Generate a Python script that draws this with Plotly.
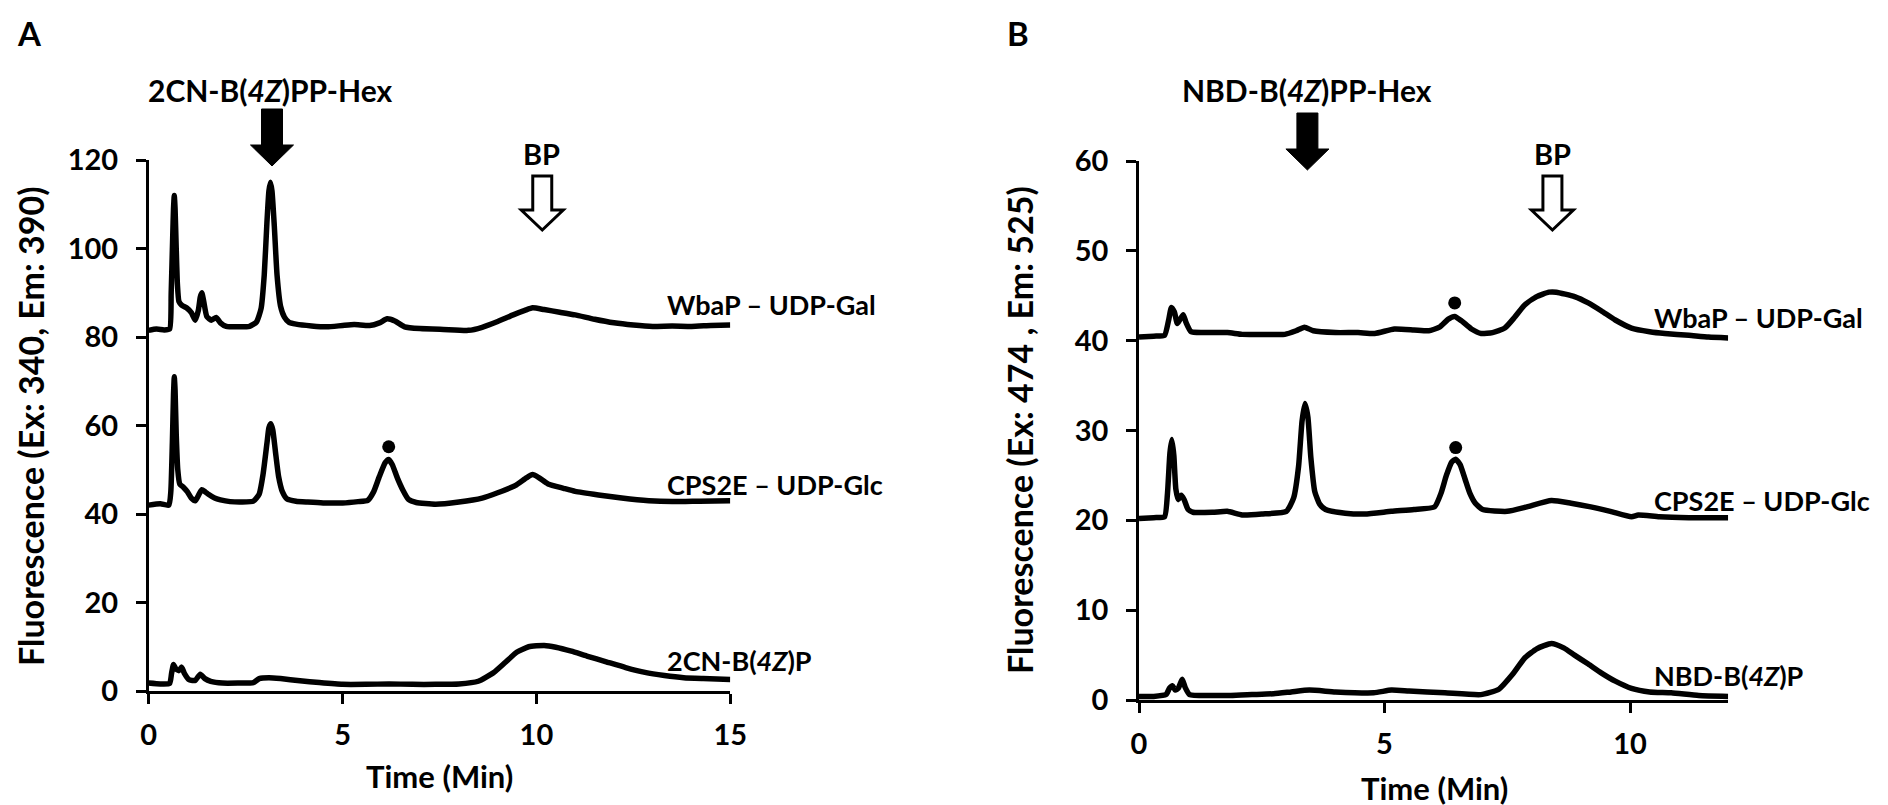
import plotly.graph_objects as go

W, H = 1888, 805

# ---------------- Data (time in min, fluorescence) ----------------
# Panel A
a_wbap_t = [0, 0.2, 0.4, 0.54, 0.58, 0.62, 0.64, 0.66, 0.68, 0.71, 0.74, 0.78, 0.85, 0.99, 1.1, 1.2, 1.28, 1.33, 1.37, 1.42, 1.5, 1.62, 1.74, 1.85, 2.0, 2.3, 2.6, 2.78, 2.9, 2.98, 3.05, 3.1, 3.14, 3.18, 3.24, 3.31, 3.4, 3.5, 3.62, 3.8, 4.2, 4.6, 5.0, 5.3, 5.7, 5.95, 6.15, 6.35, 6.6, 7.0, 7.6, 8.25, 8.6, 9.0, 9.4, 9.7, 9.9, 10.2, 10.6, 11.0, 11.5, 12.0, 12.5, 13.0, 13.5, 14.0, 14.5, 15.0]
a_wbap_y = [81.5, 81.8, 81.6, 81.8, 90, 103, 109, 112.0, 109, 100, 92, 88.0, 87.2, 86.5, 85.5, 83.8, 86.0, 89.0, 90.0, 88.0, 84.6, 83.8, 84.4, 83.2, 82.4, 82.3, 82.4, 83.4, 86.5, 94, 106, 113, 115.0, 113, 105, 94, 87, 84.5, 83.3, 82.9, 82.5, 82.3, 82.6, 82.8, 82.6, 83.2, 84.1, 83.6, 82.3, 81.9, 81.7, 81.5, 82.2, 83.5, 85.0, 86.0, 86.6, 86.2, 85.6, 85.0, 84.0, 83.2, 82.7, 82.4, 82.5, 82.4, 82.6, 82.7]

a_cps_t = [0, 0.3, 0.52, 0.57, 0.61, 0.64, 0.66, 0.68, 0.71, 0.75, 0.8, 0.9, 1.0, 1.1, 1.2, 1.3, 1.37, 1.46, 1.55, 1.7, 1.85, 2.1, 2.4, 2.7, 2.85, 2.95, 3.05, 3.1, 3.15, 3.2, 3.27, 3.35, 3.45, 3.57, 3.8, 4.1, 4.5, 5.0, 5.4, 5.65, 5.8, 5.95, 6.1, 6.19, 6.28, 6.42, 6.55, 6.7, 6.9, 7.4, 8.0, 8.6, 9.0, 9.45, 9.75, 9.9, 10.05, 10.3, 10.7, 11.0, 11.6, 12.2, 12.9, 13.5, 14.2, 15.0]
a_cps_y = [42.0, 42.3, 42.0, 45, 56, 67, 71.0, 68, 58, 50, 46.8, 46.0, 45.0, 43.6, 43.0, 44.5, 45.5, 45.0, 44.4, 43.6, 43.2, 42.8, 42.7, 42.9, 44.5, 49, 56, 59.5, 60.4, 59, 54, 48.5, 45, 43.4, 42.9, 42.7, 42.5, 42.5, 42.8, 43.1, 45, 48.5, 51.6, 52.3, 51.2, 48, 45.5, 43.3, 42.6, 42.2, 42.7, 43.6, 44.8, 46.4, 48.2, 48.9, 48.3, 46.8, 45.8, 45.1, 44.3, 43.6, 43.0, 42.8, 42.9, 43.0]

a_ref_t = [0, 0.3, 0.54, 0.59, 0.64, 0.7, 0.78, 0.85, 0.92, 1.05, 1.2, 1.33, 1.45, 1.6, 1.9, 2.3, 2.7, 2.85, 3.1, 3.4, 3.9, 4.4, 5.0, 5.6, 6.2, 6.8, 7.4, 8.0, 8.5, 8.9, 9.2, 9.5, 9.8, 10.2, 10.5, 10.9, 11.3, 11.8, 12.3, 12.8, 13.3, 13.8, 14.3, 15.0]
a_ref_y = [1.8, 1.6, 1.7, 4.0, 6.0, 5.0, 4.6, 5.4, 4.0, 2.5, 2.4, 3.8, 2.8, 2.2, 1.8, 1.8, 1.9, 2.8, 3.0, 2.8, 2.3, 1.9, 1.5, 1.5, 1.6, 1.5, 1.5, 1.6, 2.2, 4.2, 6.5, 8.8, 10.0, 10.3, 9.9, 9.0, 7.9, 6.6, 5.3, 4.2, 3.5, 3.0, 2.8, 2.6]

# Panel B
b_wbap_t = [0, 0.3, 0.52, 0.6, 0.66, 0.72, 0.78, 0.84, 0.9, 0.96, 1.06, 1.3, 1.8, 2.1, 2.6, 2.97, 3.2, 3.37, 3.55, 4.0, 4.46, 4.8, 5.2, 5.6, 5.9, 6.12, 6.3, 6.43, 6.57, 6.77, 6.97, 7.2, 7.45, 7.65, 7.86, 8.1, 8.35, 8.5, 8.87, 9.15, 9.42, 9.7, 10.03, 10.4, 10.71, 11.2, 11.6, 12.0]
b_wbap_y = [40.4, 40.5, 40.6, 42.2, 43.7, 43.2, 41.9, 42.4, 42.9, 42.0, 41.0, 40.9, 40.9, 40.7, 40.7, 40.7, 41.1, 41.5, 41.1, 40.9, 40.9, 40.8, 41.3, 41.2, 41.1, 41.5, 42.4, 42.7, 42.2, 41.3, 40.8, 40.9, 41.4, 42.6, 44.0, 44.9, 45.4, 45.4, 44.9, 44.2, 43.3, 42.3, 41.4, 41.0, 40.8, 40.6, 40.4, 40.3]

b_cps_t = [0, 0.3, 0.52, 0.58, 0.63, 0.67, 0.71, 0.75, 0.8, 0.86, 0.92, 1.0, 1.1, 1.5, 1.8, 2.1, 2.5, 3.0, 3.15, 3.25, 3.32, 3.38, 3.44, 3.5, 3.58, 3.68, 3.8, 4.2, 4.6, 5.14, 5.6, 6.02, 6.15, 6.26, 6.37, 6.45, 6.54, 6.64, 6.74, 6.85, 7.0, 7.5, 7.9, 8.4, 8.8, 9.2, 9.6, 10.03, 10.17, 10.6, 11.2, 12.0]
b_cps_y = [20.2, 20.3, 20.4, 23, 27.5, 29.0, 27.2, 23.5, 22.3, 22.8, 22.3, 21.2, 20.9, 20.9, 21.0, 20.6, 20.7, 21.0, 22.5, 26, 31, 33.0, 31.5, 27, 23.2, 21.8, 21.2, 20.8, 20.7, 21.0, 21.2, 21.5, 23, 25, 26.5, 26.8, 26.2, 24.6, 23.0, 21.9, 21.2, 21.0, 21.5, 22.2, 21.9, 21.5, 21.0, 20.4, 20.6, 20.4, 20.3, 20.3]

b_ref_t = [0, 0.3, 0.55, 0.62, 0.68, 0.74, 0.8, 0.88, 0.94, 1.03, 1.5, 1.87, 2.3, 2.74, 3.1, 3.47, 4.0, 4.78, 5.14, 5.5, 6.23, 6.96, 7.33, 7.6, 7.86, 8.1, 8.4, 8.65, 8.87, 9.15, 9.42, 9.7, 10.03, 10.4, 10.84, 11.4, 12.0]
b_ref_y = [0.4, 0.4, 0.6, 1.3, 1.6, 1.1, 1.3, 2.3, 1.4, 0.6, 0.5, 0.5, 0.6, 0.7, 0.9, 1.1, 0.9, 0.8, 1.1, 1.0, 0.8, 0.6, 1.2, 2.8, 4.7, 5.7, 6.3, 5.8, 5.0, 4.0, 3.0, 2.1, 1.3, 0.9, 0.8, 0.5, 0.4]

# dot markers above peaks
a_dot_t = [6.19]
a_dot_y = [55.2]
b_dot_t = [6.43, 6.45]
b_dot_y = [44.2, 28.1]

# labels
a_labels = ["WbaP – UDP-Gal", "CPS2E – UDP-Glc", "2CN-B(<i>4Z</i>)P"]
b_labels = ["WbaP – UDP-Gal", "CPS2E – UDP-Glc", "NBD-B(<i>4Z</i>)P"]
a_xticks = [0, 5, 10, 15]
a_yticks = [0, 20, 40, 60, 80, 100, 120]
b_xticks = [0, 5, 10]
b_yticks = [0, 10, 20, 30, 40, 50, 60]
a_product_t = 3.18   # filled arrow
a_bp_t = 10.15       # open arrow
b_product_t = 3.43
b_bp_t = 8.42

# ---------------- helpers ----------------
def px(x):
    return x / W

def py(y):
    return 1 - y / H

FONT = "Lato"
def f(size):
    return dict(family=FONT, size=size, color="black", weight="bold")

fig = go.Figure()
line = dict(color="black", width=5.5, shape="spline", smoothing=0.5)
for t, y in [(a_wbap_t, a_wbap_y), (a_cps_t, a_cps_y), (a_ref_t, a_ref_y)]:
    fig.add_trace(go.Scatter(x=t, y=y, mode="lines", line=line, xaxis="x", yaxis="y", hoverinfo="skip"))
for t, y in [(b_wbap_t, b_wbap_y), (b_cps_t, b_cps_y), (b_ref_t, b_ref_y)]:
    fig.add_trace(go.Scatter(x=t, y=y, mode="lines", line=line, xaxis="x2", yaxis="y2", hoverinfo="skip"))
fig.add_trace(go.Scatter(x=a_dot_t, y=a_dot_y, mode="markers", marker=dict(color="black", size=13), xaxis="x", yaxis="y", cliponaxis=False))
fig.add_trace(go.Scatter(x=b_dot_t, y=b_dot_y, mode="markers", marker=dict(color="black", size=13), xaxis="x2", yaxis="y2", cliponaxis=False))

ax_common = dict(showline=True, linecolor="black", linewidth=2.5, ticks="outside", ticklen=10,
                 tickwidth=2.5, tickcolor="black", showgrid=False, zeroline=False,
                 tickfont=f(29), automargin=False, fixedrange=True)

fig.update_layout(
    width=W, height=H, margin=dict(l=0, r=0, t=0, b=0),
    paper_bgcolor="white", plot_bgcolor="white", showlegend=False,
    xaxis=dict(domain=[px(140.7), px(722.3)], range=[0, 15], tickvals=a_xticks, anchor="y", ticklabelstandoff=6, **ax_common),
    yaxis=dict(domain=[py(683), py(152)], range=[0, 120], tickvals=a_yticks, anchor="x", ticklabelstandoff=12, **ax_common),
    xaxis2=dict(domain=[px(1131), px(1720.2)], range=[0, 12], tickvals=b_xticks, anchor="y2", ticklabelstandoff=6, **ax_common),
    yaxis2=dict(domain=[py(692), py(153)], range=[0, 60], tickvals=b_yticks, anchor="x2", ticklabelstandoff=12, **ax_common),
)

# block arrows (pixel-sized, anchored at data time)
def filled_arrow(xref, t, tip_y):
    path = "M -10.5,57 L 10.5,57 L 10.5,21 L 21.5,21 L 0,0 L -21.5,21 L -10.5,21 Z"
    return dict(type="path", xref=xref, yref="paper", xsizemode="pixel", ysizemode="pixel",
                xanchor=t, yanchor=py(tip_y), path=path, fillcolor="black", line=dict(color="black", width=1))

def open_arrow(xref, t, tip_y):
    path = "M -9.5,54 L 9.5,54 L 9.5,20 L 21,20 L 0,0 L -21,20 L -9.5,20 Z"
    return dict(type="path", xref=xref, yref="paper", xsizemode="pixel", ysizemode="pixel",
                xanchor=t, yanchor=py(tip_y), path=path, fillcolor="white", line=dict(color="black", width=3))

fig.update_layout(shapes=[
    filled_arrow("x", a_product_t, 158),
    open_arrow("x", a_bp_t, 222),
    filled_arrow("x2", b_product_t, 162),
    open_arrow("x2", b_bp_t, 222),
])

ann = []
def text(s, x, y, size, xanchor="center", yanchor="middle", angle=0):
    ann.append(dict(text=s, x=px(x), y=py(y), xref="paper", yref="paper", showarrow=False,
                    xanchor=xanchor, yanchor=yanchor, textangle=angle, font=f(size), borderpad=0))

text("A", 21, 25, 33)
text("B", 1010, 25, 33)
text("2CN-B(<i>4Z</i>)PP-Hex", 262, 82, 30)
text("NBD-B(<i>4Z</i>)PP-Hex", 1299, 82, 30)
text("BP", 533, 145, 29)
text("BP", 1131 + (1720.2 - 1131) * b_bp_t / 12, 145, 29)
for s, yy in zip(a_labels, [297, 476, 652]):
    text(s, 658, yy, 27, xanchor="left")
for s, yy in zip(b_labels, [309, 492, 667]):
    text(s, 1645, yy, 27, xanchor="left")
text("Fluorescence (Ex: 340, Em: 390)", 22, 418, 34, angle=-90)
text("Fluorescence (Ex: 474 , Em: 525)", 1011, 422, 34, angle=-90)
text("Time (Min)", 431, 768, 31)
text("Time (Min)", 1426, 780, 31)
fig.update_layout(annotations=ann)

fig.write_html("out.html", config={"displayModeBar": False})
